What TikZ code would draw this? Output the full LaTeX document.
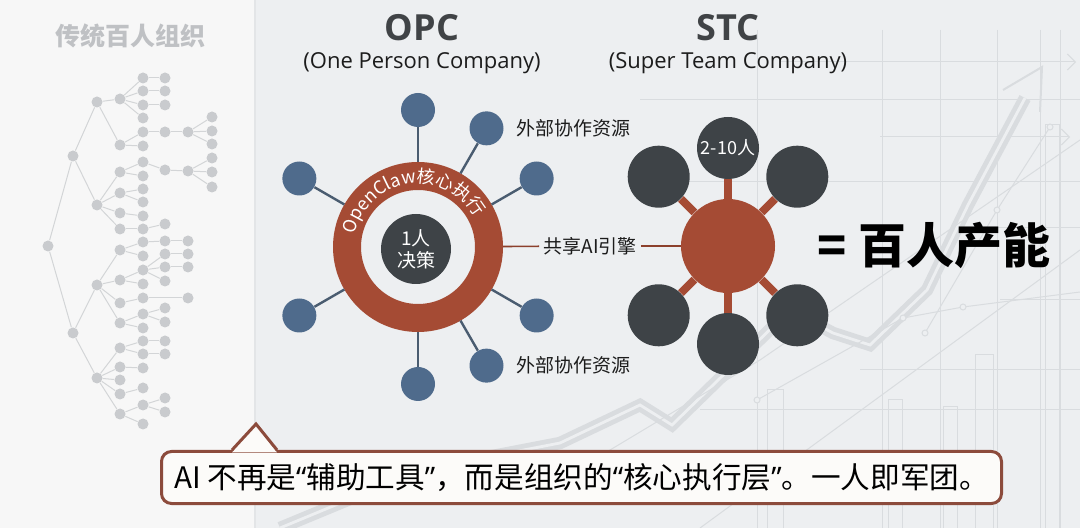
\documentclass[tikz,border=0pt]{standalone}
\usepackage{fontspec}
\setmainfont{Noto Sans CJK SC}
\newfontfamily\headfont{Open Sans}
\usetikzlibrary{positioning,calc,decorations.text,arrows.meta}
\definecolor{pagegrey}{HTML}{EDEFF1}
\definecolor{panelwhite}{HTML}{F7F7F7}
\definecolor{paneledge}{HTML}{E3E5E7}
\definecolor{treegrey}{HTML}{C9CBCE}
\definecolor{treeline}{HTML}{D3D5D7}
\definecolor{satblue}{HTML}{4F6B8C}
\definecolor{satline}{HTML}{4A5C70}
\definecolor{rust}{HTML}{A54B34}
\definecolor{slate}{HTML}{3E4347}
\definecolor{chartgrey}{HTML}{D9DCDF}
\definecolor{calloutbrown}{HTML}{8C4B3C}
\definecolor{calloutfill}{HTML}{FCFBF9}
\definecolor{headgrey}{HTML}{404346}
\definecolor{inkblack}{HTML}{1C1C1C}
\newcommand{\fsz}[2]{\fontsize{#1}{#2}\selectfont}
\newcommand{\ringfont}{\fontsize{9pt}{9pt}\selectfont}
\newcommand{\oq}{{\headfont “}}
\newcommand{\cq}{{\headfont ”}}
\tikzset{%
  orgdot/.style={circle, fill=treegrey, inner sep=0pt, minimum size=5.5pt},
  orgline/.style={draw=treeline, line width=0.5pt},
  treetitle/.style={text=treegrey!95!black, font=\fsz{12.5pt}{14pt}\bfseries},
  headtitle/.style={text=headgrey, font=\headfont\fsz{18pt}{20pt}\bfseries},
  headsub/.style={text=inkblack, font=\headfont\fsz{11pt}{13pt}},
  corering/.style={circle, draw=rust, line width=14pt, minimum size=71pt, inner sep=0pt},
  corenode/.style={circle, fill=slate, text=white, minimum size=35pt, inner sep=0pt,
    align=center, font=\fsz{9.5pt}{11pt}},
  satnode/.style={circle, fill=satblue, inner sep=0pt, minimum size=17pt},
  satlink/.style={draw=satline, line width=1.2pt},
  satlabel/.style={text=inkblack, inner sep=2pt, font=\fsz{9.5pt}{11pt}},
  enginelink/.style={draw=rust!85!black, line width=0.8pt},
  hubnode/.style={circle, fill=rust, inner sep=0pt, minimum size=47pt},
  membernode/.style={circle, fill=slate, text=white, inner sep=0pt, minimum size=31pt,
    font=\fsz{9pt}{10pt}},
  spoke/.style={draw=rust, line width=4pt},
  bigclaim/.style={text=black, font=\fsz{24pt}{26pt}\bfseries},
  calloutbox/.style={draw=calloutbrown, line width=1.5pt, fill=calloutfill, rounded corners=5pt,
    minimum width=420pt, minimum height=26pt, inner sep=0pt, text=black, font=\fsz{14.8pt}{16pt}},
  calloutline/.style={draw=calloutbrown, line width=1.5pt, line join=miter},
  chartline/.style={draw=chartgrey, line width=0.5pt},
  chartdot/.style={circle, draw=chartgrey, fill=pagegrey, line width=0.5pt, inner sep=0pt, minimum size=3pt},
}
\begin{document}
\begin{tikzpicture}[x=0.5pt, y=0.5pt]
\useasboundingbox (0,0) rectangle (1080,-528);
\fill[pagegrey] (0,0) rectangle (1080,-528);
\fill[panelwhite] (0,0) rectangle (255,-528);
\draw[draw=paneledge, line width=1pt] (255,0) -- (255,-528);

\foreach \gx in {757,882,940,997,1040,1060}
  \draw[chartline] (\gx,-30) -- (\gx,-528);
\foreach \gy/\gs in {100/640,182/640,228/960,300/1000,370/860,410/700}
  \draw[chartline] (\gs,-\gy) -- (1080,-\gy);
\draw[chartline, -{Straight Barb[length=4pt]}] (780,-62) -- (1076,-62);
\draw[chartline, -{Straight Barb[length=4pt]}] (880,-137) -- (1070,-137);
\foreach \bx/\bw/\bt in {767/16/390,888/14/400,943/14/407,975/18/355,1045/14/125}
  \draw[chartline] (\bx,-528) rectangle ++(\bw,528-\bt);
\draw[chartline, line width=2.4pt, double=pagegrey, double distance=1.4pt, line join=miter]
  (280,-528) -- (420,-470) -- (560,-443) -- (640,-405) -- (672,-425) -- (790,-310)
  -- (833,-333) -- (870,-345) -- (927,-290) -- (968,-205) -- (1025,-98);
\draw[chartline, line width=1pt] (1003,-90) -- (1042,-67) -- (1040,-112);
\draw[chartline] (700,-528) -- (1080,-250);
\draw[chartline] (560,-480) -- (760,-360) -- (1080,-140);
\draw[chartline] (757,-400) -- (903,-318) -- (963,-307) -- (1080,-292);
\draw[chartline] (925,-333) -- (997,-210) -- (1050,-127);
\foreach \dx/\dy in {757/400,903/318,963/307,925/333,997/210,1050/127}
  \node[chartdot] at (\dx,-\dy) {};

\node[treetitle] (org-title) at (130,-36) {传统百人组织};
\foreach \n/\x/\y in {r/48/246, a/73/156, b/73/333,
    a1/97/102, a2/97/205, b1/97/285, b2/97/378,
    c1/120/99, c2/120/145, c3/120/172, c4/120/193, c5/120/213, c6/120/229,
    c7/120/250, c8/120/280, c9/120/303, c10/120/323,
    c11/120/348, c12/120/367, c13/120/380, c14/120/394, c15/120/414,
    d1/143/78, d2/143/91, d3/143/105, d4/143/118, d5/143/132, d6/143/146,
    d7/143/162, d8/143/176, d9/143/189, d10/143/202, d11/143/216, d12/143/229,
    d13/143/242, d14/143/256, d15/143/270, d16/143/284, d17/143/298, d18/143/314, d19/143/328,
    d20/143/341, d21/143/354, d22/143/368, d23/143/388, d24/143/405, d25/143/424,
    e1/165/78, e2/165/91, e3/165/105, e4/165/132, e5/165/170, e6/165/224,
    e7/165/241, e8/165/254, e9/165/267, e10/165/281, e11/165/308, e12/165/322,
    e13/165/341, e14/165/354, e15/165/398, e16/165/412,
    f1/188/132, f2/188/171, f3/188/241, f4/188/254, f5/188/267, f6/188/298,
    g1/212/117, g2/212/131, g3/212/144, g4/212/158, g5/212/172, g6/212/187}
  \node[orgdot] (t-\n) at (\x,-\y) {};
\foreach \p/\c in {r/a, r/b, a/a1, a/a2, b/b1, b/b2,
    a1/c1, a1/c2, a2/c3, a2/c4, a2/c5, a2/c6, b1/c7, b1/c8, b1/c9, b1/c10,
    b2/c11, b2/c12, b2/c13, b2/c14, b2/c15,
    c1/d1, c1/d2, c1/d3, c1/d4, c2/d5, c2/d6, c3/d7, c3/d8, c4/d9, c4/d10, c5/d11, c6/d12,
    c7/d13, c7/d14, c8/d15, c8/d16, c9/d17, c10/d18, c10/d19, c11/d20, c11/d21,
    c12/d22, c14/d23, c15/d24, c15/d25,
    d1/e1, d2/e2, d3/e3, d5/e4, d7/e5, d12/e6, d13/e7, d15/e8, d15/e9, d15/e10,
    d18/e11, d18/e12, d20/e13, d21/e14, d24/e15, d24/e16,
    e4/f1, e5/f2, e7/f3, e8/f4, e9/f5, d17/f6,
    f1/g1, f1/g2, f1/g3, f2/g4, f2/g5, f2/g6}
  \draw[orgline] (t-\p) -- (t-\c);

\node[headtitle] (opc-title) at (422,-28) {OPC};
\node[headsub] (opc-sub) at (422,-63) {(One Person Company)};
\node[corering] (opc-ring) at (418,-247) {};
\node[corenode] (opc-core) at (416,-249) {1人\\决策};
\path[decorate, decoration={text along path, text={|\ringfont|OpenClaw核心执行},
    text align=center, text color=white}]
  (opc-ring.center) ++(168:64) arc[start angle=168, end angle=28, radius=64];
\foreach \a [count=\i] in {90,60,30,330,300,270,210,150}
  \path (opc-ring.center) ++(\a:137) node[satnode] (sat-\i) {};
\foreach \i in {1,...,8}
  \draw[satlink] (opc-ring) -- (sat-\i);
\node[satlabel, right=4pt of sat-2] (ext-top) {外部协作资源};
\node[satlabel, right=4pt of sat-5] (ext-bottom) {外部协作资源};
\node[satlabel] (ai-engine) at (590,-246) {共享AI引擎};

\node[headtitle] (stc-title) at (728,-28) {STC};
\node[headsub] (stc-sub) at (728,-63) {(Super Team Company)};
\node[hubnode] (stc-hub) at (728,-246) {};
\foreach \a/\t [count=\i] in {90/2-10人,45/,135/,225/,315/,270/}
  \path (stc-hub.center) ++(\a:98) node[membernode] (member-\i) {\t};
\foreach \i in {1,...,6}
  \draw[spoke] (stc-hub) -- (member-\i);
\draw[enginelink] (opc-ring) -- (ai-engine);
\draw[enginelink] (ai-engine) -- (stc-hub);
\node[bigclaim] (claim) at (934,-245) {= 百人产能};

\node[calloutbox] (motto) at (581.5,-477.5) {AI 不再是\oq 辅助工具\cq，而是组织的\oq 核心执行层\cq。一人即军团。};
\coordinate (motto-tip) at (256,-424);
\fill[calloutfill] (232,-452.5) -- (motto-tip) -- (277,-452.5) -- cycle;
\draw[calloutline] (232,-450) -- (motto-tip) -- (277,-450);
\end{tikzpicture}
\end{document}
